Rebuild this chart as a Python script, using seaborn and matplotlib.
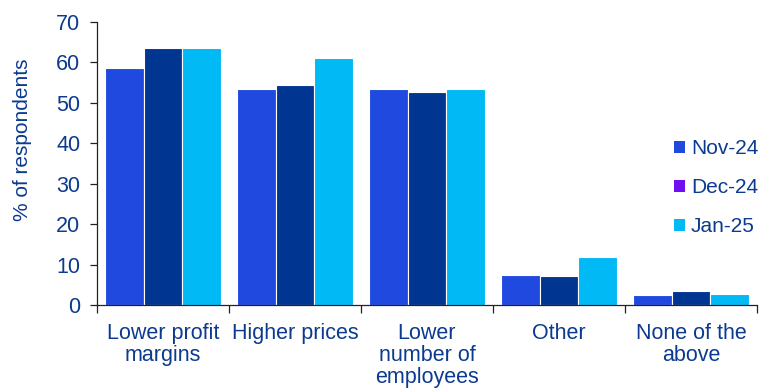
import matplotlib
matplotlib.use("Agg")
import matplotlib.pyplot as plt
from matplotlib.patches import Patch
import seaborn as sns
import pandas as pd

categories = ["Lower profit\nmargins", "Higher prices", "Lower\nnumber of\nemployees", "Other", "None of the\nabove"]
series = ["Nov-24", "Dec-24", "Jan-25"]
nov24 = [58.7, 53.5, 53.5, 7.3, 2.4]
dec24 = [63.5, 54.4, 52.7, 7.1, 3.4]
jan25 = [63.5, 61.0, 53.5, 11.8, 2.7]

bar_colors = ["#2049e0", "#003591", "#00b9f5"]
legend_colors = ["#2049e0", "#7010f0", "#00b9f5"]
text_color = "#0b3a8f"

rows = []
for s, vals in zip(series, [nov24, dec24, jan25]):
    for c, v in zip(categories, vals):
        rows.append({"category": c, "series": s, "value": v})
df = pd.DataFrame(rows)

sns.set_style("white")
plt.rcParams["font.family"] = ["Liberation Sans", "DejaVu Sans"]

fig = plt.figure(figsize=(7.61, 3.90), dpi=100)
ax = fig.add_axes([0.1275, 0.218, 0.8672, 0.7256])

sns.barplot(data=df, x="category", y="value", hue="series", order=categories,
            hue_order=series, palette=bar_colors, width=0.88, gap=0,
            edgecolor="white", linewidth=0.8, saturation=1, ax=ax, legend=False)

ax.set_xlim(-0.5, 4.5)
ax.set_ylim(0, 70)
ax.set_yticks(range(0, 71, 10))
ax.set_xlabel("")
ax.set_ylabel("% of respondents", color=text_color, fontsize=15)
ax.yaxis.label.set_verticalalignment("center")
ax.yaxis.set_label_coords(-0.1136, 0.583)

for side in ["top", "right"]:
    ax.spines[side].set_visible(False)
for side in ["left", "bottom"]:
    ax.spines[side].set_color("#222222")
    ax.spines[side].set_linewidth(0.9)

ax.tick_params(axis="y", which="major", direction="out", length=5, width=0.9,
               color="#222222", labelcolor=text_color, labelsize=15.5, left=True, pad=7)
ax.tick_params(axis="x", which="major", length=0, labelcolor=text_color, labelsize=15.5, pad=13)
ax.set_xticks([i - 0.5 for i in range(6)], minor=True)
ax.tick_params(axis="x", which="minor", direction="out", length=6, width=0.9,
               color="#222222", bottom=True)
for lbl in ax.get_xticklabels():
    lbl.set_linespacing(1.05)
    lbl.set_verticalalignment("top")

handles = [Patch(facecolor=col, edgecolor="none", label=s) for col, s in zip(legend_colors, series)]
leg = ax.legend(handles=handles, loc="upper left", bbox_to_anchor=(0.862, 0.616),
                frameon=False, fontsize=15, handlelength=0.5, handleheight=0.5,
                handletextpad=0.3, labelspacing=0.97, borderaxespad=0)
for t in leg.get_texts():
    t.set_color(text_color)

fig.savefig("out.png", dpi=100)
